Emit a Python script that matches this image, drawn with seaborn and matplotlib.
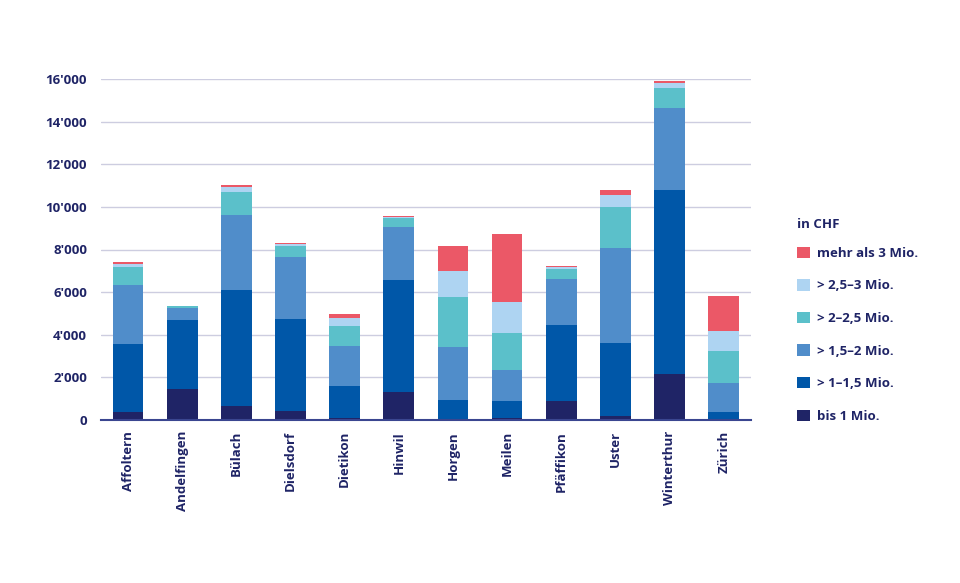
import matplotlib
matplotlib.use("Agg")
import matplotlib.pyplot as plt
import seaborn as sns
import pandas as pd
import numpy as np
from matplotlib.patches import Patch
from matplotlib.ticker import FuncFormatter

regions = ["Affoltern", "Andelfingen", "Bülach", "Dielsdorf", "Dietikon", "Hinwil",
           "Horgen", "Meilen", "Pfäffikon", "Uster", "Winterthur", "Zürich"]
classes = ["bis 1 Mio.", "> 1–1,5 Mio.", "> 1,5–2 Mio.", "> 2–2,5 Mio.", "> 2,5–3 Mio.", "mehr als 3 Mio."]
bis1     = [390, 1440, 640, 440, 80, 1300, 20, 90, 910, 190, 2180, 10]
m1_15    = [3180, 3240, 5450, 4300, 1530, 5290, 920, 820, 3550, 3410, 8620, 370]
m15_2    = [2750, 590, 3530, 2910, 1860, 2470, 2500, 1440, 2160, 4460, 3850, 1370]
m2_25    = [850, 60, 1080, 530, 960, 440, 2340, 1740, 480, 1920, 950, 1490]
m25_3    = [150, 10, 220, 70, 340, 45, 1230, 1470, 70, 580, 220, 950]
mehr3    = [80, 10, 90, 60, 210, 45, 1140, 3190, 50, 220, 80, 1620]
colors = ["#1f2466", "#0057a8", "#508dca", "#5bc0ca", "#aed4f2", "#eb5867"]
text_color = "#1f2466"

sns.set_theme(style="white")
plt.rcParams["font.family"] = ["Open Sans", "DejaVu Sans"]

df = pd.DataFrame({"Region": regions, classes[0]: bis1, classes[1]: m1_15, classes[2]: m15_2,
                   classes[3]: m2_25, classes[4]: m25_3, classes[5]: mehr3})
cum = df[classes].cumsum(axis=1)
cum["Region"] = df["Region"]

fig = plt.figure(figsize=(9.6, 5.83), dpi=100)
ax = fig.add_axes([101/960, 1-420/583, (750.7-101)/960, (420-79)/583])

for cls, col in reversed(list(zip(classes, colors))):
    sns.barplot(data=cum, x="Region", y=cls, color=col, width=0.566, ax=ax,
                saturation=1, linewidth=0, zorder=3)

ax.set_xlim(-0.5, 11.5)
ax.set_ylim(0, 16000)
ax.set_yticks(np.arange(0, 16001, 2000))
ax.yaxis.set_major_formatter(FuncFormatter(lambda v, p: f"{int(v):,}".replace(",", "'")))
ax.grid(axis="y", color="#cdcde0", linewidth=1.0, zorder=0)
ax.set_axisbelow(True)
for s in ["top", "right", "left"]:
    ax.spines[s].set_visible(False)
ax.spines["bottom"].set_color("#3a4690")
ax.spines["bottom"].set_linewidth(1.5)
ax.spines["bottom"].set_zorder(5)
ax.set_xlabel("")
ax.set_ylabel("")
ax.tick_params(axis="y", length=0, pad=10, labelsize=9.5, labelcolor=text_color)
ax.tick_params(axis="x", length=0, pad=8, labelsize=9.5, labelcolor=text_color)
for lab in ax.get_yticklabels():
    lab.set_fontweight("bold")
ax.set_xticks(range(len(regions)))
ax.set_xticklabels(regions, rotation=90, fontweight="bold", va="top", ha="center")

handles = [Patch(facecolor=c, edgecolor="none", label=l) for c, l in zip(colors, classes)]
handles = handles[::-1]
leg = fig.legend(handles=handles, loc="upper left", bbox_to_anchor=(792/960, 1-213/583),
                 frameon=False, title="in CHF", fontsize=9.5, title_fontsize=9.5,
                 handlelength=0.95, handleheight=0.95, handletextpad=0.55, labelspacing=1.47,
                 borderaxespad=0)
leg._legend_box.align = "left"
leg._legend_box.sep = 11
leg.get_title().set_fontweight("bold")
leg.get_title().set_color(text_color)
for t in leg.get_texts():
    t.set_fontweight("bold")
    t.set_color(text_color)

fig.savefig("out.png", dpi=100)
